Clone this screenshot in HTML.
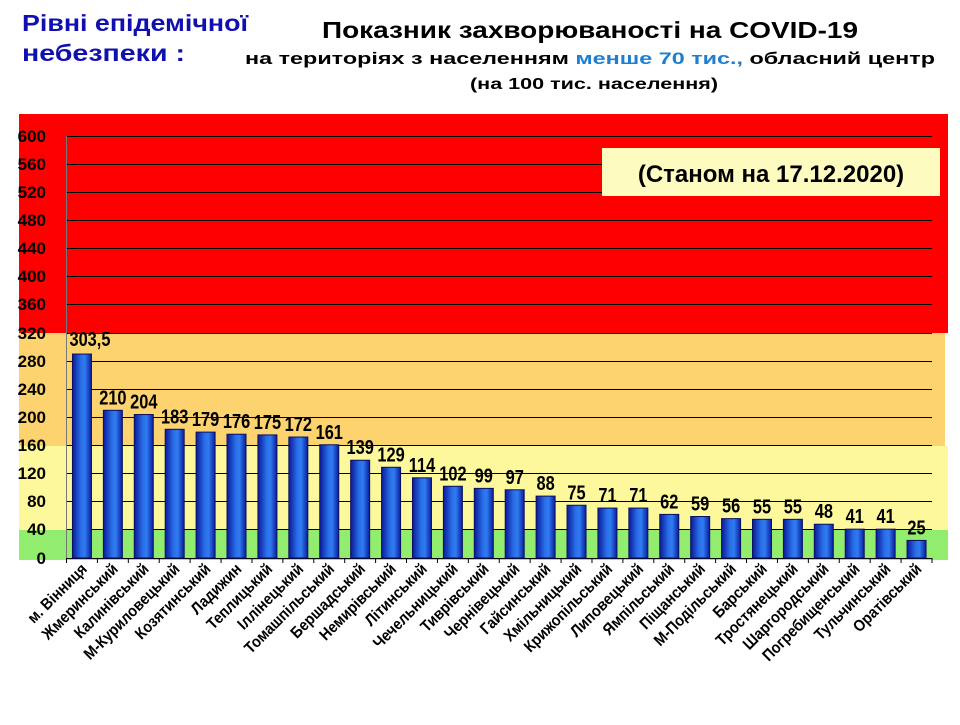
<!DOCTYPE html>
<html><head><meta charset="utf-8"><style>
body{margin:0;background:#fff;width:960px;height:720px;overflow:hidden}
svg text{font-family:"Liberation Sans Narrow","Liberation Sans",sans-serif;font-weight:bold}
</style></head><body>
<svg width="960" height="720" viewBox="0 0 960 720" xmlns="http://www.w3.org/2000/svg">
<defs>
<linearGradient id="bg" x1="0" x2="1" y1="0" y2="0">
<stop offset="0" stop-color="#0a1a9a"/><stop offset="0.45" stop-color="#2a6ee8"/><stop offset="0.65" stop-color="#2f7cf0"/><stop offset="1" stop-color="#0b1ca0"/>
</linearGradient>
</defs>
<text x="22" y="31" font-size="23" fill="#1010b0" textLength="226" lengthAdjust="spacingAndGlyphs">Рівні епідемічної</text>
<text x="22" y="61" font-size="23" fill="#1010b0" textLength="163" lengthAdjust="spacingAndGlyphs">небезпеки :</text>
<text x="322" y="38" font-size="23" fill="#000" textLength="536" lengthAdjust="spacingAndGlyphs">Показник захворюваності на COVID-19</text>
<text x="245" y="64" font-size="17" fill="#000" textLength="690" lengthAdjust="spacingAndGlyphs">на територіях з населенням <tspan fill="#1e7fd0">менше 70 тис.,</tspan> обласний центр</text>
<text x="470" y="89" font-size="16" fill="#000" textLength="248" lengthAdjust="spacingAndGlyphs">(на 100  тис. населення)</text>
<rect x="19" y="114" width="929" height="219" fill="#fe0000"/>
<rect x="19" y="333" width="926" height="113" fill="#fcd36f"/>
<rect x="19" y="446" width="929" height="84" fill="#fef89c"/>
<rect x="19" y="530" width="929" height="30" fill="#92ec6e"/>
<g stroke="#000" stroke-width="1">
<line x1="66" x2="932" y1="136.5" y2="136.5"/><line x1="66" x2="932" y1="164.5" y2="164.5"/><line x1="66" x2="932" y1="192.5" y2="192.5"/><line x1="66" x2="932" y1="220.5" y2="220.5"/><line x1="66" x2="932" y1="248.5" y2="248.5"/><line x1="66" x2="932" y1="276.5" y2="276.5"/><line x1="66" x2="932" y1="304.5" y2="304.5"/><line x1="66" x2="932" y1="333.5" y2="333.5"/><line x1="66" x2="932" y1="361.5" y2="361.5"/><line x1="66" x2="932" y1="389.5" y2="389.5"/><line x1="66" x2="932" y1="417.5" y2="417.5"/><line x1="66" x2="932" y1="445.5" y2="445.5"/><line x1="66" x2="932" y1="473.5" y2="473.5"/><line x1="66" x2="932" y1="501.5" y2="501.5"/><line x1="66" x2="932" y1="529.5" y2="529.5"/>
<line x1="66.5" x2="66.5" y1="136" y2="558" stroke="#777"/>
<line x1="66" x2="932" y1="558.5" y2="558.5"/>
</g>
<g font-size="17" fill="#000" text-anchor="end">
<text x="46" y="142">600</text><text x="46" y="170">560</text><text x="46" y="198">520</text><text x="46" y="226">480</text><text x="46" y="254">440</text><text x="46" y="282">400</text><text x="46" y="310">360</text><text x="46" y="339">320</text><text x="46" y="367">280</text><text x="46" y="395">240</text><text x="46" y="423">200</text><text x="46" y="451">160</text><text x="46" y="479">120</text><text x="46" y="507">80</text><text x="46" y="535">40</text><text x="46" y="564">0</text>
</g>
<rect x="602" y="148" width="338" height="48" fill="#fefbc0"/>
<text x="771" y="182" font-size="24" text-anchor="middle" fill="#000">(Станом на 17.12.2020)</text>
<g id="bars"></g>
</svg>
<script>
var names=["м. Вінниця","Жмеринський","Калинівський","М-Куриловецький","Козятинський","Ладижин","Теплицький","Іллінецький","Томашпільський","Бершадський","Немирівський","Літинський","Чечельницький","Тиврівський","Чернівецький","Гайсинський","Хмільницький","Крижопільський","Липовецький","Ямпільський","Піщанський","М-Подільський","Барський","Тростянецький","Шаргородський","Погребищенський","Тульчинський","Оратівський"];
var vals=[303.5,210,204,183,179,176,175,172,161,139,129,114,102,99,97,88,75,71,71,62,59,56,55,55,48,41,41,25];
var g=document.getElementById("bars"),s="";
var step=(932-66.5)/28;
for(var i=0;i<28;i++){
 var cx=66.5+step*(i+0.5),v=i==0?290:vals[i],ty=558-v*0.7033;
 s+='<rect x="'+(cx-9.5)+'" y="'+ty+'" width="19" height="'+(558-ty)+'" fill="url(#bg)" stroke="#0a1060" stroke-width="1"/>';
 s+='<line x1="'+(66.5+step*(i+1))+'" x2="'+(66.5+step*(i+1))+'" y1="558" y2="563" stroke="#000"/>';
 var lab=i==0?"303,5":String(vals[i]);
 var ly=i==0?ty-8:ty-6;
 s+='<text transform="translate('+(i==0?cx+8:cx)+','+ly+') scale(0.82,1)" font-size="20" text-anchor="middle" fill="#000">'+lab+'</text>';
 s+='<text transform="translate('+(cx+6)+',570) rotate(-45) scale(0.9,1)" font-size="16" text-anchor="end" fill="#000">'+names[i]+'</text>';
}
s+='<line x1="66.5" x2="66.5" y1="558" y2="563" stroke="#000"/>';
g.innerHTML=s;
</script>
</body></html>
